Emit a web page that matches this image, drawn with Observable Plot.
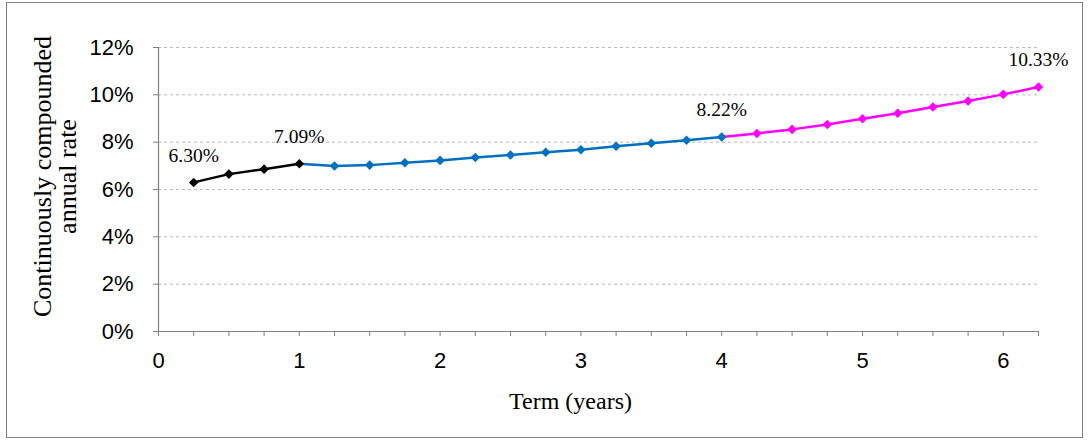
<!DOCTYPE html>
<html><head><meta charset="utf-8">
<script src="https://cdn.jsdelivr.net/npm/d3@7"></script>
<script src="https://cdn.jsdelivr.net/npm/@observablehq/plot@0.6"></script>
<style>
body{margin:0;background:#fff;}
#wrap{position:relative;width:1090px;height:443px;}
#frame{position:absolute;left:6px;top:2px;width:1077px;height:436px;border:1.5px solid #7f7f7f;pointer-events:none;box-sizing:border-box;}
svg{display:block;}
</style></head><body><div id="wrap"><div id="frame"></div></div>
<script>
// Data
const terms = [0.25,0.5,0.75,1,1.25,1.5,1.75,2,2.25,2.5,2.75,3,3.25,3.5,3.75,4,4.25,4.5,4.75,5,5.25,5.5,5.75,6,6.25];
const rates = [6.30,6.65,6.86,7.09,6.99,7.03,7.13,7.23,7.35,7.46,7.57,7.68,7.83,7.95,8.08,8.22,8.37,8.54,8.75,8.99,9.22,9.49,9.74,10.02,10.33];
const segmentNames = ["0–1 year","1–4 years","4–6.25 years"];
const segmentEnds = [1, 4, 6.25];
const labelTerms = [0.25, 1, 4, 6.25];
const labelTexts = ["6.30%","7.09%","8.22%","10.33%"];
const yTicks = [0,2,4,6,8,10,12];
const xTicks = [0,0.25,0.5,0.75,1,1.25,1.5,1.75,2,2.25,2.5,2.75,3,3.25,3.5,3.75,4,4.25,4.5,4.75,5,5.25,5.5,5.75,6,6.25];
const yTitle = "Continuously compounded\nannual rate";
const xTitle = "Term (years)";

const points = terms.map((t, i) => ({
  term: t, rate: rates[i],
  seg: segmentNames[segmentEnds.findIndex(e => t <= e)]
}));
const lineData = [];
segmentNames.forEach((name, i) => {
  const start = i === 0 ? -Infinity : segmentEnds[i - 1];
  points.filter(p => p.term >= start && p.term <= segmentEnds[i])
        .forEach(p => lineData.push({term: p.term, rate: p.rate, seg: name}));
});
const labels = labelTerms.map((t, i) => ({term: t, rate: rates[terms.indexOf(t)], text: labelTexts[i]}));

const sans = "'Liberation Sans', Arial, sans-serif";
const serif = "'Liberation Serif', 'Times New Roman', serif";

const chart = Plot.plot({
  width: 1090,
  height: 443,
  marginLeft: 158,
  marginRight: 52,
  marginTop: 47,
  marginBottom: 112,
  style: {background: "transparent", overflow: "visible"},
  x: {domain: [0, 6.25]},
  y: {domain: [0, 12]},
  color: {domain: segmentNames, range: ["#000000", "#0070C0", "#FF00FF"]},
  marks: [
    Plot.gridY(yTicks.filter(d => d > 0), {stroke: "#b8b8b8", strokeOpacity: 1, strokeDasharray: "3,3"}),
    Plot.ruleY([0], {stroke: "#7f7f7f", strokeWidth: 1.2}),
    Plot.ruleX([0], {stroke: "#7f7f7f", strokeWidth: 1.2}),
    Plot.axisY(yTicks, {tickSize: 5, tickPadding: 20, tickFormat: d => d + "%", fontSize: 22, fontFamily: sans, stroke: "#7f7f7f", label: null}),
    Plot.axisX(xTicks, {tickSize: 5, tickPadding: 16, tickFormat: d => Number.isInteger(d) ? String(d) : "", fontSize: 22, fontFamily: sans, stroke: "#7f7f7f", label: null}),
    Plot.line(lineData, {x: "term", y: "rate", z: "seg", stroke: "seg", strokeWidth: 2.5}),
    Plot.dot(points, {x: "term", y: "rate", fill: "seg", symbol: "diamond2", r: 4.3, stroke: null}),
    Plot.text(labels, {x: "term", y: "rate", text: "text", dy: -27, fontSize: 19.5, fontFamily: serif, lineAnchor: "middle", fill: "#000"}),
    Plot.text([yTitle], {frameAnchor: "left", rotate: -90, dx: -103, dy: -13, fontSize: 26, fontFamily: serif, lineAnchor: "middle", textAnchor: "middle", lineHeight: 0.97, fill: "#000"}),
    Plot.text([xTitle], {frameAnchor: "bottom", dx: -28, dy: 70, fontSize: 24, fontFamily: serif, lineAnchor: "middle", fill: "#000"})
  ]
});
document.getElementById("wrap").prepend(chart);
</script>
</body></html>
